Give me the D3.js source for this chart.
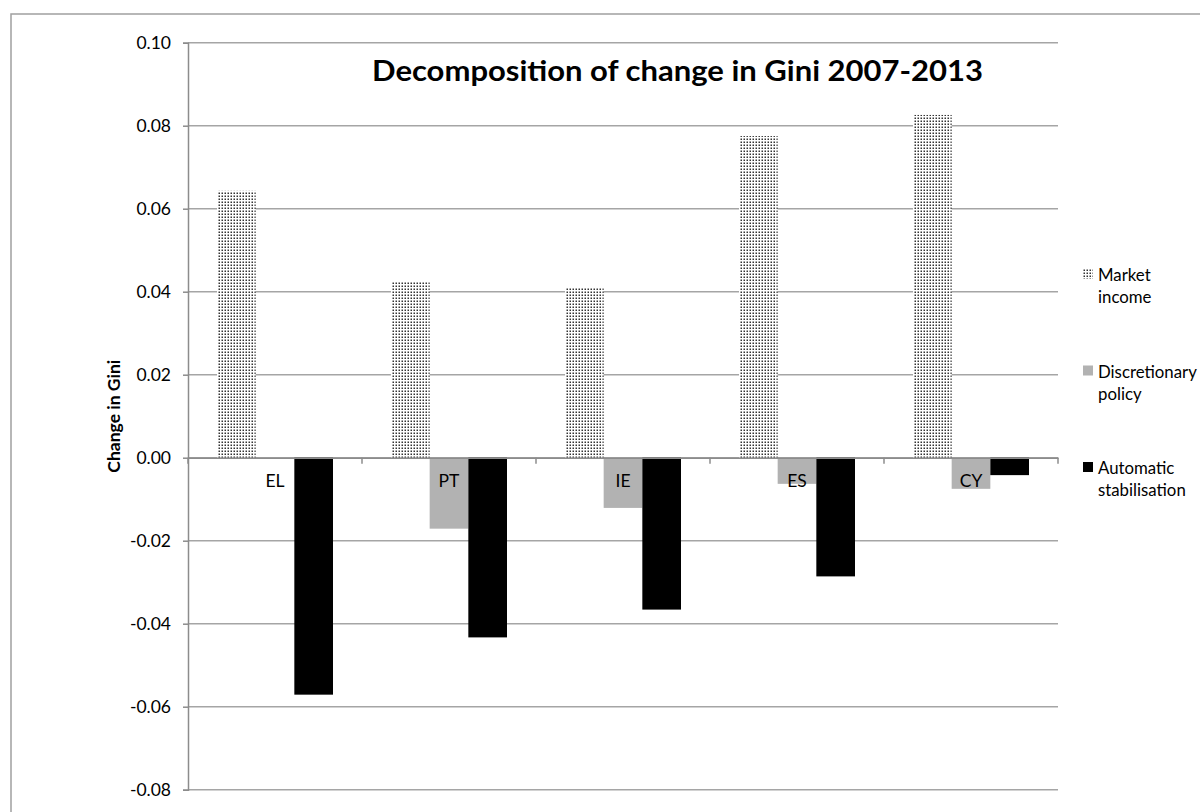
<!DOCTYPE html>
<html>
<head>
<meta charset="utf-8">
<script src="https://cdn.jsdelivr.net/npm/d3@7"></script>
<style>
  html, body { margin: 0; padding: 0; background: #fff; }
  svg { display: block; }
  text { font-family: Lato, "Open Sans", sans-serif; fill: #000; }
</style>
</head>
<body>
<script>
const categories = ["EL", "PT", "IE", "ES", "CY"];
const seriesNames = ["Market income", "Discretionary policy", "Automatic stabilisation"];
const legendLines = [["Market", "income"], ["Discretionary", "policy"], ["Automatic", "stabilisation"]];
const marketIncome = [0.0643, 0.0424, 0.0410, 0.0775, 0.0826];
const discretionaryPolicy = [-0.0003, -0.0171, -0.0121, -0.0063, -0.0075];
const automaticStabilisation = [-0.0571, -0.0433, -0.0366, -0.0286, -0.0042];
const yTicks = [-0.08, -0.06, -0.04, -0.02, 0.00, 0.02, 0.04, 0.06, 0.08, 0.10];
const titleText = "Decomposition of change in Gini 2007-2013";
const yAxisTitle = "Change in Gini";

const seriesValues = [marketIncome, discretionaryPolicy, automaticStabilisation];
const W = 1200, H = 812;
const plot = { left: 188, right: 1058, top: 42.7, bottom: 789.7 };
const gridColor = "#a5a5a5";
const axisColor = "#8c8c8c";
const fs = 17.5;
const legendFs = 16.8;

const svg = d3.select("body").append("svg").attr("width", W).attr("height", H);

const defs = svg.append("defs");
const pat = defs.append("pattern").attr("id", "dots")
  .attr("patternUnits", "userSpaceOnUse").attr("width", 3).attr("height", 3);
pat.append("rect").attr("width", 3).attr("height", 3).attr("fill", "#fff");
pat.append("rect").attr("x", 0.5).attr("y", 0.5).attr("width", 1.5).attr("height", 1.5).attr("fill", "#333");

const fills = ["url(#dots)", "#b2b2b2", "#000"];

// outer chart border
svg.append("rect").attr("x", 11).attr("y", 14).attr("width", W + 20).attr("height", H + 20)
  .attr("fill", "none").attr("stroke", "#a0a0a0").attr("stroke-width", 1.5);

const y = d3.scaleLinear().domain([-0.08, 0.10]).range([plot.bottom, plot.top]);
const x0 = d3.scaleBand().domain(categories).range([plot.left, plot.right]).paddingInner(0).paddingOuter(0);
const bw = x0.bandwidth();
const x1 = d3.scaleBand().domain(seriesNames).range([bw / 6, bw * 5 / 6]).padding(0);

// gridlines
svg.append("g").selectAll("line").data(yTicks).join("line")
  .attr("x1", plot.left).attr("x2", plot.right)
  .attr("y1", d => y(d)).attr("y2", d => y(d))
  .attr("stroke", gridColor).attr("stroke-width", 1.5);

// bars
const rows = categories.map((c, i) => seriesNames.map((s, j) => ({ c, s, j, v: seriesValues[j][i] })));
svg.append("g").selectAll("g").data(rows).join("g")
  .attr("transform", (d, i) => `translate(${x0(categories[i])},0)`)
  .selectAll("rect").data(d => d).join("rect")
  .attr("x", d => x1(d.s))
  .attr("width", x1.bandwidth())
  .attr("y", d => Math.min(y(d.v), y(0)))
  .attr("height", d => Math.max(Math.abs(y(d.v) - y(0)), 0.8))
  .attr("fill", d => fills[d.j]);

// y axis
const yAxis = d3.axisLeft(y).tickValues(yTicks).tickSize(5).tickPadding(12)
  .tickFormat(d => (Math.abs(d) < 1e-9 ? 0 : d).toFixed(2));
const gy = svg.append("g").attr("transform", `translate(${plot.left},0)`).call(yAxis);
gy.select(".domain").attr("stroke", axisColor).attr("stroke-width", 1.5);
gy.selectAll(".tick line").attr("stroke", axisColor).attr("stroke-width", 1.5);
gy.selectAll(".tick text").attr("font-size", fs).attr("font-family", "Lato, sans-serif").attr("fill", "#000");

// x axis at zero
const xAxis = d3.axisBottom(x0).tickSize(0).tickFormat(d => d);
const gx = svg.append("g").attr("transform", `translate(0,${y(0)})`).call(xAxis);
gx.select(".domain").attr("stroke", axisColor).attr("stroke-width", 1.5);
gx.selectAll(".tick text").attr("font-size", fs).attr("font-family", "Lato, sans-serif")
  .attr("fill", "#000").attr("y", 17).attr("dy", "0.71em");
// category boundary tick marks
const bounds = categories.map(c => x0(c)).concat([x0(categories[categories.length - 1]) + bw]);
gx.append("g").selectAll("line").data(bounds).join("line")
  .attr("x1", d => d).attr("x2", d => d).attr("y1", 0).attr("y2", 6)
  .attr("stroke", axisColor).attr("stroke-width", 1.5);

// axis title
svg.append("text")
  .attr("transform", `translate(120,${(plot.top + plot.bottom) / 2}) rotate(-90)`)
  .attr("text-anchor", "middle").attr("font-size", fs).attr("font-weight", "bold")
  .text(yAxisTitle);

// chart title
svg.append("text").attr("x", 372).attr("y", 81)
  .attr("font-size", 29).attr("font-weight", "bold")
  .attr("textLength", 611).attr("lengthAdjust", "spacingAndGlyphs")
  .text(titleText);

// legend
const lg = svg.append("g").selectAll("g").data(seriesNames).join("g")
  .attr("transform", (d, i) => `translate(1083,${269 + i * 96.5})`);
lg.append("rect").attr("width", 10).attr("height", 10).attr("fill", (d, i) => fills[i]);
lg.each(function (d, i) {
  const t = d3.select(this).append("text").attr("x", 15).attr("y", 12).attr("font-size", legendFs);
  legendLines[i].forEach((ln, k) => {
    t.append("tspan").attr("x", 15).attr("dy", k === 0 ? 0 : 22).text(ln);
  });
});
</script>
</body>
</html>
